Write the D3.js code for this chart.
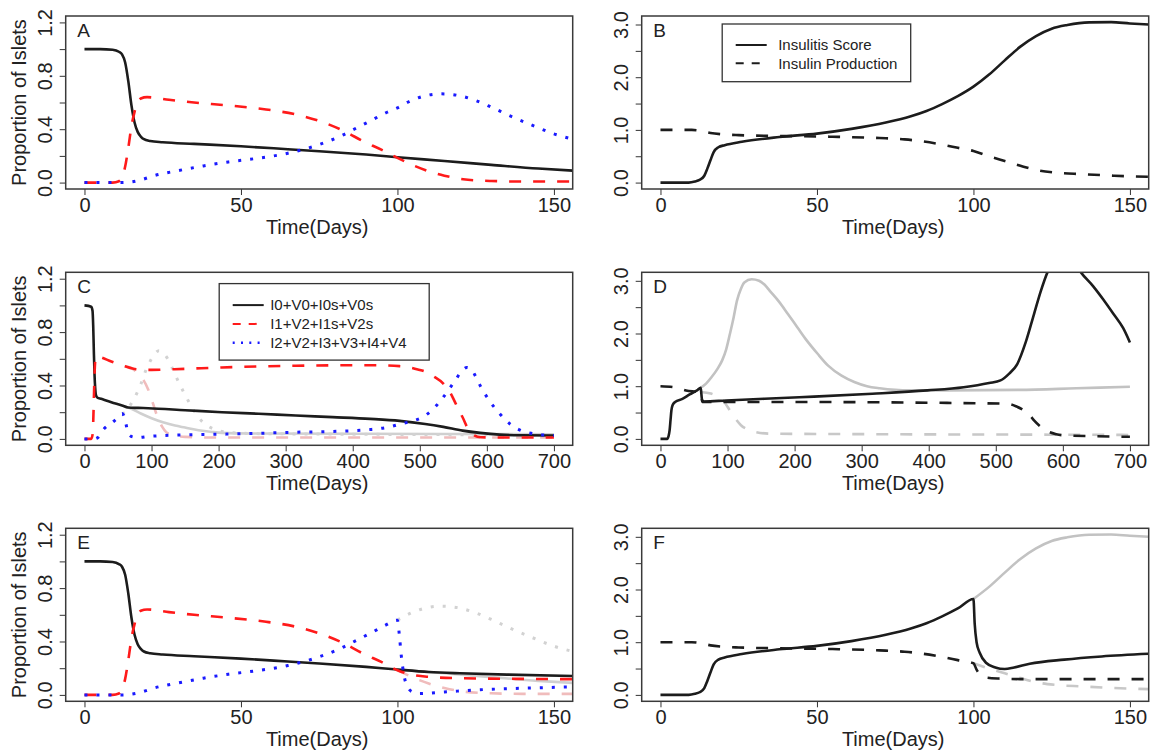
<!DOCTYPE html>
<html>
<head>
<meta charset="utf-8">
<title>Islet model panels</title>
<script src="https://cdn.jsdelivr.net/npm/d3@7"></script>
<style>
  body { margin: 0; background: #fff; }
  text { font-family: "Liberation Sans", Arial, Helvetica, sans-serif; fill: #222; }
</style>
</head>
<body>
<svg width="1151" height="756"></svg>
<script>
// ---- values: [day, value] ----
// A: untreated, proportions of islets
const aGroup0 = [[0,1],[5,1],[9,0.995],[11,0.98],[12,0.96],[13,0.9],[14,0.76],[15,0.58],[16,0.45],[17,0.38],[18,0.345],[19,0.325],[21,0.312],[25,0.302],[35,0.29],[50,0.272],[65,0.25],[75,0.235],[90,0.21],[100,0.19],[115,0.162],[130,0.133],[145,0.105],[156,0.09]];
const aGroup1 = [[0,0],[9,0],[11,0.01],[12,0.04],[13,0.12],[14,0.26],[15,0.42],[16,0.53],[17,0.6],[18,0.63],[20,0.64],[27,0.62],[35,0.6],[46,0.578],[58,0.548],[68,0.508],[77,0.445],[83,0.385],[89,0.31],[95,0.245],[100,0.185],[105,0.13],[110,0.085],[115,0.052],[121,0.025],[130,0.012],[140,0.008],[156,0.008]];
const aGroup2 = [[0,0],[12,0],[15,0.005],[18,0.02],[22,0.05],[30,0.09],[38,0.125],[46,0.155],[54,0.178],[65,0.22],[75,0.285],[82,0.35],[87,0.41],[92,0.47],[96,0.52],[100,0.56],[104,0.61],[108,0.645],[114,0.665],[120,0.65],[125,0.615],[130,0.565],[136,0.5],[143,0.43],[150,0.365],[156,0.325]];

// B: untreated, insulitis score / insulin production
const bScore = [[0,0],[9,0],[11,0.02],[12.5,0.05],[14,0.13],[15,0.27],[16,0.43],[17,0.58],[18.5,0.67],[20.5,0.71],[26,0.775],[38,0.865],[50,0.93],[61,1.02],[72,1.14],[80,1.26],[85,1.36],[90,1.49],[95,1.64],[100,1.82],[105,2.05],[110,2.32],[115,2.58],[120,2.78],[125,2.92],[130,2.99],[137,3.04],[144,3.045],[150,3.02],[156,3.0]];
const bInsulin = [[0,1.0],[10,1.0],[13,0.98],[16,0.94],[20,0.915],[25,0.9],[38,0.885],[55,0.87],[70,0.845],[78,0.82],[84,0.78],[90,0.72],[95,0.66],[100,0.6],[105,0.5],[110,0.41],[115,0.32],[120,0.24],[126,0.19],[135,0.16],[145,0.13],[156,0.11]];

// C: treatment from day 60, over 700 days
const cGroup0 = [[0,1],[10,0.99],[12,0.96],[13,0.85],[14,0.65],[15,0.48],[16,0.38],[17,0.33],[19,0.31],[25,0.3],[40,0.275],[56,0.25],[65,0.235],[80,0.232],[95,0.23],[150,0.215],[205,0.2],[260,0.188],[315,0.175],[370,0.163],[426,0.15],[470,0.135],[508,0.112],[535,0.09],[564,0.062],[590,0.045],[619,0.032],[650,0.027],[700,0.025]];
const cGroup1 = [[0,0],[10,0],[12,0.03],[13,0.12],[14,0.3],[15,0.48],[16,0.58],[18,0.62],[22,0.615],[40,0.58],[60,0.545],[78,0.522],[100,0.517],[150,0.525],[205,0.535],[315,0.548],[426,0.552],[470,0.545],[497,0.52],[510,0.5],[520,0.47],[536,0.41],[545,0.35],[553,0.27],[564,0.16],[575,0.05],[591,0.012],[620,0.01],[700,0.01]];
const cGroup2 = [[0,0],[15,0],[20,0.01],[29,0.075],[42,0.125],[52,0.17],[56,0.19],[59,0.17],[62,0.11],[65,0.04],[72,0.015],[80,0.01],[95,0.018],[150,0.03],[205,0.035],[260,0.042],[315,0.05],[370,0.056],[426,0.07],[455,0.09],[470,0.11],[490,0.135],[503,0.16],[517,0.21],[530,0.28],[542,0.36],[553,0.44],[563,0.51],[570,0.535],[577,0.52],[583,0.47],[591,0.39],[602,0.3],[619,0.19],[635,0.11],[652,0.06],[668,0.04],[700,0.025]];
const cGhost0 = [[60,0.245],[70,0.225],[84,0.19],[100,0.155],[117,0.125],[135,0.1],[150,0.085],[170,0.065],[190,0.052],[205,0.045],[250,0.04],[400,0.038],[700,0.035]];
const cGhost1 = [[60,0.545],[70,0.53],[80,0.49],[88,0.44],[95,0.37],[100,0.3],[105,0.22],[110,0.15],[116,0.09],[122,0.05],[135,0.025],[150,0.015],[200,0.01],[700,0.01]];
const cGhost2 = [[56,0.19],[62,0.2],[68,0.25],[75,0.31],[84,0.41],[92,0.52],[100,0.6],[106,0.645],[111,0.66],[117,0.645],[124,0.6],[130,0.54],[140,0.43],[150,0.33],[161,0.23],[170,0.16],[180,0.11],[195,0.07],[205,0.055],[250,0.04],[400,0.035],[700,0.03]];

// D: treatment from day 60, insulitis score / insulin production
const dScore = [[0,0],[10,0],[12,0.05],[13.6,0.16],[15,0.36],[16.3,0.54],[18,0.64],[21.8,0.7],[32.7,0.76],[43.6,0.845],[54.5,0.92],[60,0.97],[61,0.85],[62,0.74],[65,0.71],[98,0.73],[207,0.79],[316,0.857],[398,0.92],[452,0.98],[490,1.06],[507,1.11],[520,1.24],[532,1.42],[545,1.85],[557,2.37],[567,2.8],[577,3.16],[590,3.42],[602,3.5],[614,3.42],[627,3.16],[645,2.9],[660,2.65],[675,2.38],[690,2.1],[700,1.83]];
const dInsulin = [[0,1.0],[20,0.98],[30,0.95],[38,0.92],[50,0.9],[60,0.89],[61,0.8],[62.6,0.7],[98,0.7],[207,0.7],[370,0.69],[450,0.68],[507,0.67],[520,0.66],[530,0.62],[542,0.54],[550,0.46],[557,0.35],[567,0.23],[577,0.145],[590,0.09],[600,0.07],[650,0.05],[700,0.04]];
const dGhostScore = [[60,0.97],[68,1.05],[76,1.17],[85,1.33],[92,1.49],[98,1.7],[103.5,1.99],[109,2.3],[114,2.62],[120,2.85],[125,2.97],[136,3.03],[147,3.0],[155,2.93],[163,2.81],[177,2.6],[190,2.37],[204,2.12],[218,1.87],[234,1.62],[250,1.39],[270,1.2],[289,1.08],[308,1.0],[327,0.96],[350,0.93],[370,0.92],[425,0.92],[534,0.93],[620,0.96],[700,0.99]];
const dGhostInsulin = [[60,0.89],[75,0.86],[87,0.79],[95,0.7],[103.5,0.54],[112,0.38],[120,0.26],[130,0.18],[141.6,0.13],[163,0.1],[300,0.09],[580,0.08],[700,0.075]];

// E / F: same as A / B until day 100, then treated
const treatDay = 100;
const eGroup0After = [[110,0.172],[120,0.162],[135,0.152],[156,0.142]];
const eGroup1After = [[103,0.16],[106,0.145],[110,0.135],[120,0.125],[156,0.118]];
const eGroup2After = [[100.6,0.45],[101.2,0.3],[102,0.16],[103,0.07],[105,0.02],[107,0.01],[115,0.022],[126,0.038],[140,0.05],[156,0.06]];
const fScoreAfter = [[100.4,1.35],[101,1.0],[102,0.8],[104,0.61],[107,0.52],[110,0.49],[113,0.52],[118,0.59],[129,0.67],[141,0.73],[156,0.78]];
const fInsulinAfter = [[101,0.48],[102,0.39],[104,0.33],[108,0.31],[115,0.3],[156,0.3]];

const groupLabels = ['I0+V0+I0s+V0s', 'I1+V2+I1s+V2s', 'I2+V2+I3+V3+I4+V4'];
const scoreLabels = ['Insulitis Score', 'Insulin Production'];
const propTicks = [0, 0.2, 0.4, 0.6, 0.8, 1.0, 1.2];
const scoreTicks = [0, 0.5, 1.0, 1.5, 2.0, 2.5, 3.0];
const shortDays = [0, 50, 100, 150];
const longDays = [0, 100, 200, 300, 400, 500, 600, 700];

const before = (s, t) => s.filter(d => d[0] <= t);
const after = (s, t) => s.filter(d => d[0] >= t);

// ---- styles ----
const BLACK = '#1c1c1c', RED = '#ff1a1a', BLUE = '#1a1aff';
const solid = c => ({color: c, dash: null, width: 2.6});
const dashed = c => ({color: c, dash: '12 12', width: 2.6});
const dotted = c => ({color: c, dash: '3 9', width: 3});
const GREY_S = '#d0d0d0', PINK_D = '#f0bcbc', GREY_P = '#d2d2d2';
const GREY_S2 = '#c2c2c2', GREY_D2 = '#c8c8c8';

const svg = d3.select('svg');
const boxW = 507, boxH = 173;
const cols = [65.7, 641.7];
const rows = [16, 272.3, 528.3];

const panels = [
  {tag: 'A', col: 0, row: 0, days: shortDays, kind: 'prop', series: [
    [aGroup0, solid(BLACK)], [aGroup1, dashed(RED)], [aGroup2, dotted(BLUE)]]},
  {tag: 'B', col: 1, row: 0, days: shortDays, kind: 'score', legend: 'score', series: [
    [bScore, solid(BLACK)], [bInsulin, dashed(BLACK)]]},
  {tag: 'C', col: 0, row: 1, days: longDays, kind: 'prop', legend: 'group', series: [
    [cGhost0, solid(GREY_S)], [cGhost1, dashed(PINK_D)], [cGhost2, dotted(GREY_P)],
    [cGroup0, solid(BLACK)], [cGroup1, dashed(RED)], [cGroup2, dotted(BLUE)]]},
  {tag: 'D', col: 1, row: 1, days: longDays, kind: 'score', series: [
    [dGhostScore, solid(GREY_S2)], [dGhostInsulin, dashed(GREY_D2)],
    [dScore, solid(BLACK)], [dInsulin, dashed(BLACK)]]},
  {tag: 'E', col: 0, row: 2, days: shortDays, kind: 'prop', series: [
    [after(aGroup0, treatDay), solid(GREY_S)], [after(aGroup1, treatDay), dashed(PINK_D)], [after(aGroup2, treatDay), dotted(GREY_P)],
    [before(aGroup0, treatDay).concat(eGroup0After), solid(BLACK)],
    [before(aGroup1, treatDay).concat(eGroup1After), dashed(RED)],
    [before(aGroup2, treatDay).concat(eGroup2After), dotted(BLUE)]]},
  {tag: 'F', col: 1, row: 2, days: shortDays, kind: 'score', series: [
    [after(bScore, treatDay), solid(GREY_S2)], [after(bInsulin, treatDay), dashed(GREY_D2)],
    [before(bScore, treatDay).concat(fScoreAfter), solid(BLACK)],
    [before(bInsulin, treatDay).concat(fInsulinAfter), dashed(BLACK)]]}
];

panels.forEach((p, i) => {
  const left = cols[p.col], top = rows[p.row];
  const xMax = p.days[p.days.length - 1];
  const x = d3.scaleLinear().domain([-0.04 * xMax, 1.04 * xMax]).range([left, left + boxW]);
  const yMax = p.kind === 'prop' ? 1.2 : 3.04;
  const y = d3.scaleLinear().domain([-0.04 * yMax, 1.04 * yMax]).range([top + boxH, top]);
  const g = svg.append('g');

  g.append('clipPath').attr('id', 'clip' + i)
    .append('rect').attr('x', left).attr('y', top).attr('width', boxW).attr('height', boxH);

  const line = d3.line().x(d => x(d[0])).y(d => y(d[1])).curve(d3.curveMonotoneX);
  const plot = g.append('g').attr('clip-path', `url(#clip${i})`);
  p.series.forEach(([data, st]) => {
    plot.append('path')
      .attr('d', line(data))
      .attr('fill', 'none')
      .attr('stroke', st.color)
      .attr('stroke-width', st.width)
      .attr('stroke-dasharray', st.dash)
      .attr('stroke-linejoin', 'round');
  });

  // axes
  const xAxis = d3.axisBottom(x).tickValues(p.days).tickSize(6).tickFormat(d3.format('d'));
  const xg = g.append('g').attr('transform', `translate(0,${top + boxH})`).call(xAxis);
  const yTicks = p.kind === 'prop' ? propTicks : scoreTicks;
  const yAxis = d3.axisLeft(y).tickValues(yTicks).tickSize(6)
    .tickFormat((d, k) => k % 2 === 0 ? d3.format('.1f')(d) : '');
  const yg = g.append('g').attr('transform', `translate(${left},0)`).call(yAxis);
  [xg, yg].forEach(a => {
    a.select('.domain').remove();
    a.selectAll('.tick line').attr('stroke', '#333');
    a.selectAll('.tick text').style('font-size', '20px').attr('fill', '#222');
  });
  yg.selectAll('.tick text')
    .attr('transform', 'rotate(-90)')
    .attr('x', 0).attr('y', -14).attr('dy', 0)
    .attr('text-anchor', 'middle');

  g.append('rect').attr('x', left).attr('y', top).attr('width', boxW).attr('height', boxH)
    .attr('fill', 'none').attr('stroke', '#3a3a3a').attr('stroke-width', 1.5);

  g.append('text').attr('x', left + boxW / 2 - 2).attr('y', top + boxH + 45)
    .attr('text-anchor', 'middle').style('font-size', '20px').text('Time(Days)');

  if (p.col === 0) {
    g.append('text')
      .attr('transform', `translate(25.5,${top + boxH / 2}) rotate(-90)`)
      .attr('text-anchor', 'middle').style('font-size', '20px').text('Proportion of Islets');
  }

  g.append('text').attr('x', left + 11.5).attr('y', top + 20.7)
    .style('font-size', '19px').text(p.tag);

  // legends
  if (p.legend === 'score') {
    const lg = g.append('g').attr('transform', `translate(${left + 80.5},${top + 8})`);
    lg.append('rect').attr('width', 188.5).attr('height', 57.7)
      .attr('fill', '#fff').attr('stroke', '#333').attr('stroke-width', 1.3);
    scoreLabels.forEach((lab, k) => {
      const yy = 21 + k * 18.3;
      lg.append('line').attr('x1', 13.5).attr('x2', 44.5).attr('y1', yy).attr('y2', yy)
        .attr('stroke', BLACK).attr('stroke-width', 2)
        .attr('stroke-dasharray', k === 1 ? '8 8' : null);
      lg.append('text').attr('x', 56).attr('y', yy + 5.3)
        .style('font-size', '15px').attr('fill', '#333').text(lab);
    });
  }
  if (p.legend === 'group') {
    const lg = g.append('g').attr('transform', `translate(${left + 153.5},${top + 11.3})`);
    lg.append('rect').attr('width', 210).attr('height', 76.5)
      .attr('fill', '#fff').attr('stroke', '#333').attr('stroke-width', 1.3);
    const legStyles = [[BLACK, null, 2], [RED, '8 8', 2], [BLUE, '2 6.3', 2.4]];
    groupLabels.forEach((lab, k) => {
      const yy = 21.5 + k * 18.8;
      lg.append('line').attr('x1', 13.5).attr('x2', 44.5).attr('y1', yy).attr('y2', yy)
        .attr('stroke', legStyles[k][0]).attr('stroke-width', legStyles[k][2])
        .attr('stroke-dasharray', legStyles[k][1]);
      lg.append('text').attr('x', 51).attr('y', yy + 5.3)
        .style('font-size', '15px').attr('fill', '#333').text(lab);
    });
  }
});
</script>
</body>
</html>
